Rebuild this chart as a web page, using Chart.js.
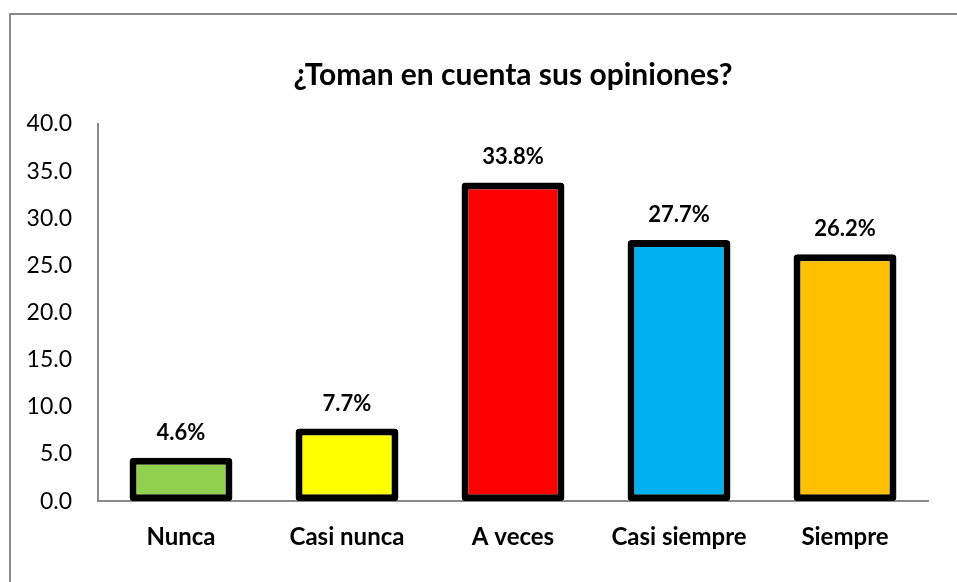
<!DOCTYPE html>
<html>
<head>
<meta charset="utf-8">
<script src="https://cdn.jsdelivr.net/npm/chart.js@4"></script>
<style>
  html, body { margin: 0; padding: 0; background: #fff; }
  #wrap { position: relative; width: 957px; height: 582px; }
</style>
</head>
<body>
<div id="wrap"><canvas id="chart" width="957" height="582"></canvas></div>
<script>
// Chart data
const categories = ['Nunca', 'Casi nunca', 'A veces', 'Casi siempre', 'Siempre'];
const values = [4.6, 7.7, 33.8, 27.7, 26.2];
const barColors = ['#92d050', '#ffff00', '#ff0000', '#00b0f0', '#ffc000'];
const yTicks = [0, 5, 10, 15, 20, 25, 30, 35, 40];
const chartTitle = '¿Toman en cuenta sus opiniones?';

const FONT = 'Lato, "Open Sans", sans-serif';

// Frame lines (left and top edges only, like the original) + title over plot area
const framePlugin = {
    id: 'frame',
    beforeDraw(chart) {
        const ctx = chart.ctx;
        const area = chart.chartArea;
        ctx.save();
        ctx.strokeStyle = '#8a8a8a';
        ctx.lineWidth = 2;
        ctx.beginPath();
        ctx.moveTo(10, 582);
        ctx.lineTo(10, 14);
        ctx.lineTo(957, 14);
        ctx.stroke();

        ctx.font = 'bold 30px ' + FONT;
        ctx.fillStyle = '#000';
        ctx.textAlign = 'center';
        ctx.textBaseline = 'middle';
        ctx.fillText(chartTitle, (area.left + area.right) / 2, 75);
        ctx.restore();
    }
};

// Value labels above each bar
const valueLabels = {
    id: 'valueLabels',
    afterDatasetsDraw(chart) {
        const ctx = chart.ctx;
        const meta = chart.getDatasetMeta(0);
        ctx.save();
        ctx.font = 'bold 22px ' + FONT;
        ctx.fillStyle = '#000';
        ctx.textAlign = 'center';
        ctx.textBaseline = 'alphabetic';
        meta.data.forEach((bar, i) => {
            ctx.fillText(values[i].toFixed(1) + '%', bar.x, bar.y - 18);
        });
        ctx.restore();
    }
};

const ctx = document.getElementById('chart').getContext('2d');
new Chart(ctx, {
    type: 'bar',
    data: {
        labels: categories,
        datasets: [{
            data: values,
            backgroundColor: barColors,
            borderColor: '#000',
            borderWidth: 7,
            borderRadius: 4,
            borderSkipped: false,
            barPercentage: 0.62,
            categoryPercentage: 1
        }]
    },
    options: {
        responsive: false,
        animation: false,
        layout: { padding: { left: 0, right: 29, top: 124, bottom: 8 } },
        plugins: {
            legend: { display: false },
            tooltip: { enabled: false },
            title: { display: false }
        },
        scales: {
            x: {
                grid: { display: false, drawTicks: false },
                border: { color: '#8a8a8a', width: 2 },
                ticks: {
                    color: '#000',
                    font: { family: FONT, size: 24, weight: 'bold' },
                    padding: 22,
                    maxRotation: 0
                }
            },
            y: {
                min: 0,
                max: 40,
                afterFit(scale) { scale.width = 98; },
                afterBuildTicks(scale) { scale.ticks = yTicks.map(v => ({ value: v })); },
                grid: { display: false, drawTicks: false },
                border: { color: '#8a8a8a', width: 2 },
                ticks: {
                    color: '#000',
                    font: { family: FONT, size: 23 },
                    padding: 26,
                    callback: v => v.toFixed(1)
                }
            }
        }
    },
    plugins: [framePlugin, valueLabels]
});
</script>
</body>
</html>
